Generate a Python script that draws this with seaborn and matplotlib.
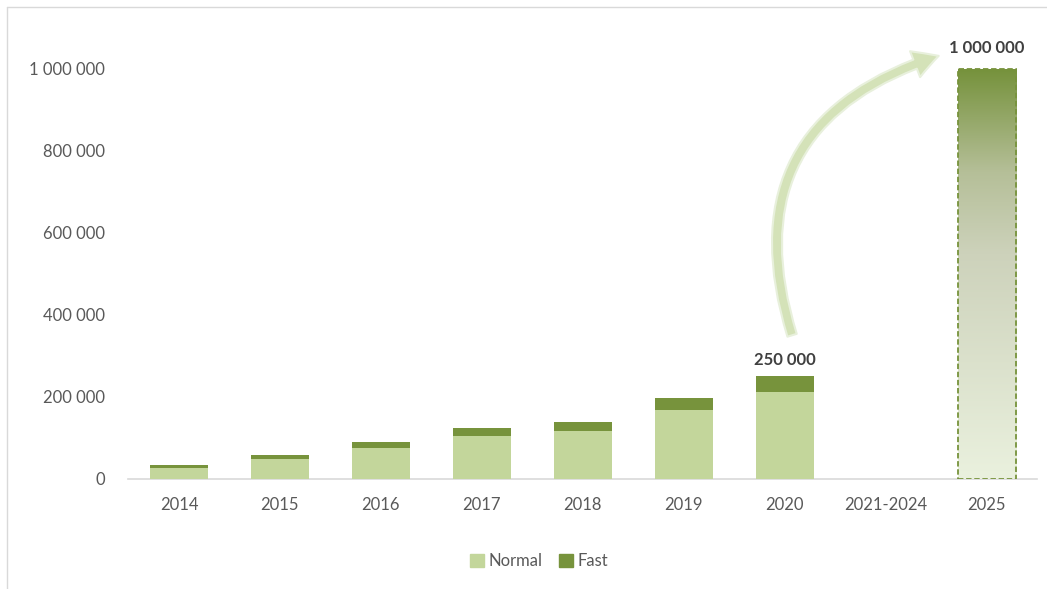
import numpy as np
import pandas as pd
import matplotlib
matplotlib.use("Agg")
import matplotlib.pyplot as plt
import seaborn as sns
from matplotlib.colors import LinearSegmentedColormap
from matplotlib.lines import Line2D
from matplotlib.patches import Patch

# values
categories = ["2014", "2015", "2016", "2017", "2018", "2019", "2020", "2021-2024", "2025"]
normal = [26000, 49000, 75000, 105000, 118000, 168000, 212000, np.nan, np.nan]
fast = [8000, 10000, 15000, 20000, 22000, 30000, 38000, np.nan, np.nan]
forecast = [np.nan, np.nan, np.nan, np.nan, np.nan, np.nan, np.nan, np.nan, 1000000]
yticks = [0, 200000, 400000, 600000, 800000, 1000000]

NORMAL_COLOR = "#c3d69b"
FAST_COLOR = "#77933c"
TEXT_COLOR = "#595959"

df = pd.DataFrame({"year": categories, "normal": normal, "fast": fast, "forecast": forecast})
df["total"] = df["normal"] + df["fast"]

sns.set_style("white")
plt.rcParams["font.family"] = ["Lato", "DejaVu Sans"]

fig = plt.figure(figsize=(10.47, 5.89), dpi=100)
ax = fig.add_axes([0.1227, 0.1868, 0.868, 0.7657])

bw = 0.575
# stacked bars: total in "fast" colour underneath, normal on top
sns.barplot(data=df, x="year", y="total", order=categories, color=FAST_COLOR,
            width=bw, saturation=1, linewidth=0, ax=ax, zorder=2)
sns.barplot(data=df, x="year", y="normal", order=categories, color=NORMAL_COLOR,
            width=bw, saturation=1, linewidth=0, ax=ax, zorder=3)
sns.barplot(data=df, x="year", y="forecast", order=categories, color="none",
            width=bw, saturation=1, ax=ax, zorder=4)
target = ax.patches[-1]
target.set_facecolor("none")
target.set_edgecolor(FAST_COLOR)
target.set_linestyle((0, (3, 1.5)))
target.set_linewidth(1.3)

# gradient fill for the 2025 target bar
cmap = LinearSegmentedColormap.from_list(
    "grad", [(0, "#eaf1de"), (0.55, "#cdd2bb"), (0.75, "#b5bf98"), (1.0, "#76923c")])
x0 = target.get_x()
grad = np.linspace(0, 1, 256).reshape(-1, 1)
im = ax.imshow(grad, extent=[x0, x0 + target.get_width(), 0, target.get_height()],
               origin="lower", aspect="auto", cmap=cmap, zorder=3.5)
im.set_clip_path(target)

ax.set_xlim(-0.5, len(categories) - 0.5)
ax.set_ylim(0, 1100000)
ax.set_yticks(yticks)
ax.set_yticklabels([f"{v:,}".replace(",", " ") for v in yticks])
ax.set_xlabel("")
ax.set_ylabel("")
ax.tick_params(axis="both", length=0, labelsize=12, labelcolor=TEXT_COLOR)
ax.tick_params(axis="x", pad=13)
ax.tick_params(axis="y", pad=17)
sns.despine(ax=ax, left=True)
ax.spines["bottom"].set_color("#d9d9d9")
ax.spines["bottom"].set_linewidth(1.2)

# value labels
ax.annotate("250 000", xy=(6, df["total"].iloc[6]), xytext=(0, 6), textcoords="offset points",
            ha="center", va="bottom", fontsize=12, fontweight="bold", color="#404040")
ax.annotate("1 000 000", xy=(8, 1000000), xytext=(0, 9), textcoords="offset points",
            ha="center", va="bottom", fontsize=12, fontweight="bold", color="#404040")

# curved growth arrow
ax.annotate("", xy=(7.55, 1034000), xytext=(6.08, 344000),
            arrowprops=dict(arrowstyle="simple,head_width=1.0,head_length=0.9,tail_width=0.35",
                            connectionstyle="arc3,rad=-0.5", mutation_scale=20,
                            fc="#d4e2b8", ec="#e8f0dc", lw=1.5),
            zorder=5)

# legend
handles = [Patch(color=NORMAL_COLOR, label="Normal"), Patch(color=FAST_COLOR, label="Fast")]
fig.legend(handles=handles, loc="center", bbox_to_anchor=(0.515, 0.047), ncol=2, frameon=False,
           fontsize=12, labelcolor=TEXT_COLOR, handlelength=0.8, handleheight=0.8,
           handletextpad=0.3, columnspacing=1.0)

# light frame at top and left of the picture
fig.add_artist(Line2D([0.0067, 0.0067], [0, 0.988], transform=fig.transFigure, color="#d9d9d9", lw=1))
fig.add_artist(Line2D([0.0067, 1], [0.988, 0.988], transform=fig.transFigure, color="#d9d9d9", lw=1))

fig.savefig("out.png", dpi=100)
